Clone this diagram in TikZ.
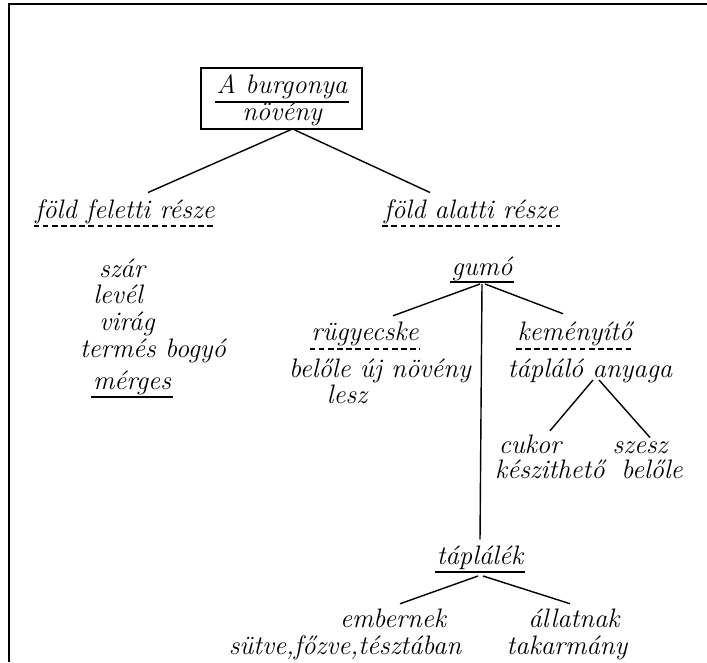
\documentclass[tikz,border=0pt]{standalone}
\usepackage{fontspec}
\usetikzlibrary{calc}

\begin{document}
\begin{tikzpicture}[x=0.025cm,y=-0.025cm,
  szo/.style={font=\fontsize{19}{22}\selectfont\itshape,inner sep=1pt,anchor=base},
  ag/.style={line width=1pt},
  alahuz/.style={line width=0.8pt},
  szaggat/.style={line width=0.8pt,dash pattern=on 4pt off 2.5pt}]
\useasboundingbox (0,0) rectangle (707,662);

% keret
\draw[line width=1.4pt] (9,662) -- (9,4) -- (707,4);

% a doboz
\node[draw,line width=1.2pt,minimum width=4.025cm,minimum height=1.525cm]
  (noveny) at (281.5,98.5) {};
\node[szo] (burg) at (282,94) {A burgonya};
\node[szo] (nov) at (282,121) {növény};
\draw[alahuz] ($(burg.base west)+(0,8)$) -- ($(burg.base east)+(0,8)$);

% ket resz
\node[szo] (feletti) at (125,218) {föld feletti része};
\node[szo] (alatti) at (471,218) {föld alatti része};
\draw[szaggat] ($(feletti.base west)+(0,8)$) -- ($(feletti.base east)+(0,8)$);
\draw[szaggat] ($(alatti.base west)+(0,8)$) -- ($(alatti.base east)+(0,8)$);
\draw[ag] ($(noveny.south)+(9,0)$) -- ($(feletti.north)+(23,-5)$);
\draw[ag] ($(noveny.south)+(13,0)$) -- ($(alatti.north)+(-41,-5)$);

% foldfeletti
\node[szo] (szar) at (122,277) {szár};
\node[szo] (level) at (118,303) {levél};
\node[szo] (virag) at (127,330) {virág};
\node[szo] (termes) at (153,357) {termés bogyó};
\node[szo] (merges) at (132,389) {mérges};
\draw[alahuz] ($(merges.base west)+(0,8)$) -- ($(merges.base east)+(0,8)$);

% foldalatti
\node[szo] (gumo) at (482,275) {gumó};
\draw[alahuz] ($(gumo.base west)+(0,7)$) -- ($(gumo.base east)+(0,7)$);
\coordinate (gumoalj) at ($(gumo.base)+(0,9)$);

\node[szo] (rugy) at (365,340) {rügyecske};
\draw[szaggat] ($(rugy.base west)+(0,9)$) -- ($(rugy.base east)+(0,9)$);
\node[szo] (ujnov) at (380,377) {belőle új növény};
\node[szo] (lesz) at (347,403) {lesz};

\node[szo] (kemeny) at (575,340) {keményítő};
\draw[szaggat] ($(kemeny.base west)+(0,9)$) -- ($(kemeny.base east)+(0,9)$);
\node[szo] (tapanyag) at (590,377) {tápláló anyaga};

\node[szo] (cukor) at (530,453) {cukor};
\node[szo] (szesz) at (640,453) {szesz};
\node[szo] (keszit) at (550,478) {készithető};
\node[szo] (belole) at (652,478) {belőle};

\node[szo] (taplalek) at (480,564) {táplálék};
\draw[alahuz] ($(taplalek.base west)+(0,8)$) -- ($(taplalek.base east)+(0,8)$);

\node[szo] (ember) at (393,627) {embernek};
\node[szo] (allat) at (574,627) {állatnak};
\node[szo] (sutve) at (345,654) {sütve,főzve,tésztában};
\node[szo] (takarm) at (567,654) {takarmány};

% agak
\draw[ag] ($(gumoalj)+(-2,0)$) -- ($(rugy.north)+(28,-4)$);
\draw[ag] ($(gumoalj)+(3,0)$) -- ($(kemeny.north)+(-12,-6)$);
\draw[ag] (gumoalj) -- ($(taplalek.north)+(0,-4)$);
\draw[ag] ($(tapanyag.base)+(3,3)$) -- ($(cukor.north)+(20,-2)$);
\draw[ag] ($(tapanyag.base)+(9,3)$) -- ($(szesz.north)+(10,-2)$);
\draw[ag] ($(taplalek.base)+(-2,12)$) -- ($(ember.north)+(7,-3)$);
\draw[ag] ($(taplalek.base)+(3,12)$) -- ($(allat.north)+(-4,-3)$);

\end{tikzpicture}
\end{document}
